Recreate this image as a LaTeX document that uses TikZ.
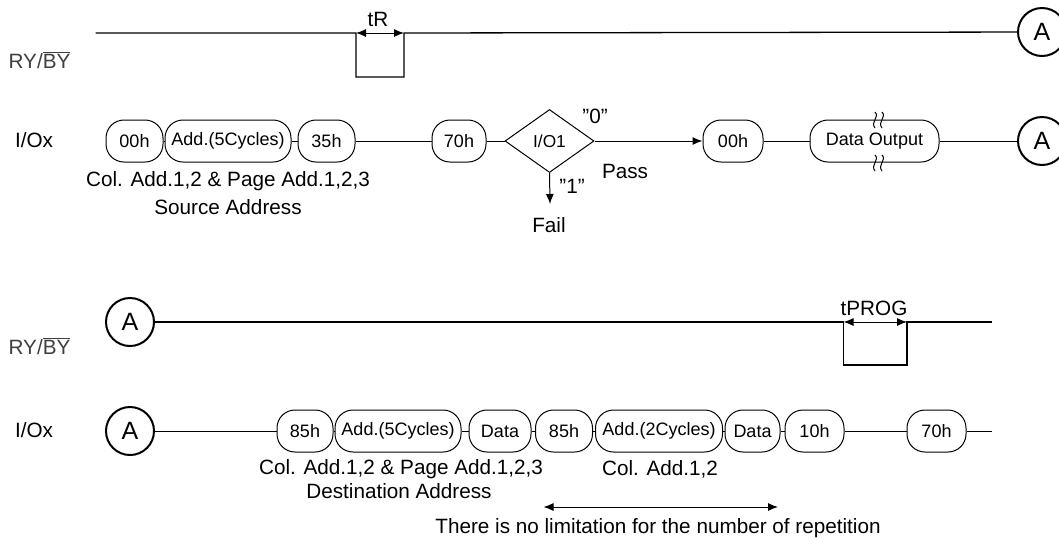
\documentclass[tikz,border=0pt]{standalone}
\usepackage{fontspec}
\setmainfont{Liberation Sans}
\usetikzlibrary{arrows.meta,shapes.geometric}
\begin{document}
\begin{tikzpicture}[
    x=1pt, y=-1pt,
    signal/.style={black, line width=1.3pt},
    bus/.style={black, line width=1pt},
    pill/.style={draw, line width=1pt, rounded corners=18pt, minimum height=42pt,
      inner sep=0pt, font=\fontsize{18}{20}\selectfont},
    decision/.style={draw, diamond, line width=1pt, minimum width=89pt,
      minimum height=63pt, inner sep=0pt, font=\fontsize{17.3}{20}\selectfont},
    joint/.style={draw, circle, line width=2pt, minimum size=48pt, inner sep=0pt,
      font=\fontsize{25}{28}\selectfont},
    lbl/.style={font=\fontsize{20.7}{24}\selectfont, inner sep=0pt},
    pinname/.style={lbl, black!75},
    tip/.style={-{Latex[length=10pt,width=8pt]}},
    dim/.style={line width=1pt, {Latex[length=10pt,width=8pt]}-{Latex[length=10pt,width=8pt]}},
  ]
\useasboundingbox (0,0) rectangle (1059,539);

% Signal names on the left.
\node[pinname] (rybTop) at (39.5,60) {RY/$\overline{\mbox{BY}}$};
\node[lbl] (ioTop) at (34,140) {I/Ox};
\node[pinname] (rybBot) at (39.5,346) {RY/$\overline{\mbox{BY}}$};
\node[lbl] (ioBot) at (34,430) {I/Ox};

% Read for copy-back: busy pulse tR, then on to connector A.
\node[joint] (topA) at (1042,32) {A};
\coordinate (ryStart) at (95.5,33);
\coordinate (tRs) at (356,33);
\coordinate (tRe) at (404,33);
\draw[signal] (ryStart) -- (tRs) -- ++(0,44) -- ++(48,0) -- (tRe) -- (topA);
\draw[dim] (tRs) -- (tRe);
\node[lbl] (tR) at (378,19) {tR};

% Command and address sequence, status check, data output.
\node[pill, minimum width=57pt] (c00) at (134.5,141) {00h};
\node[pill, minimum width=126pt] (cadd) at (228,141) {Add.(5Cycles)};
\node[pill, minimum width=57pt] (c35) at (326.5,141) {35h};
\node[pill, minimum width=54pt] (c70) at (459,141) {70h};
\node[decision] (chk) at (549.5,141) {I/O1};
\node[pill, minimum width=60pt] (r00) at (733,141) {00h};
\node[pill, minimum width=129pt] (dout) at (874.5,141) {Data Output};
\node[joint] (midA) at (1042,141) {A};
\draw[bus] (c00) -- (cadd);
\draw[bus] (cadd) -- (c35);
\draw[bus] (c35) -- (c70);
\draw[bus] (c70) -- (chk);
\draw[bus, tip] (chk) -- (r00);
\draw[bus] (r00) -- (dout);
\draw[bus] (dout) -- (midA);
\coordinate (failEnd) at (550,204);
\draw[bus, tip] (chk.south) -- (failEnd);
\node[lbl] (zero) at (595,116) {”0”};
\node[lbl] (one) at (572,186) {”1”};
\node[lbl] (pass) at (625,171) {Pass};
\node[lbl] (fail) at (549,225) {Fail};
\node[lbl] (srcCol) at (228,181) {Col. Add.1,2 \& Page Add.1,2,3};
\node[lbl] (srcName) at (228,207) {Source Address};

% Break marks on the data output burst.
\draw[bus] (875,112) .. controls (880,117) and (870,122) .. (875,128);
\draw[bus] (882,112) .. controls (887,117) and (877,122) .. (882,128);
\draw[bus] (875,155) .. controls (880,160) and (870,165) .. (875,171);
\draw[bus] (882,155) .. controls (887,160) and (877,165) .. (882,171);

% Program side: busy pulse tPROG.
\node[joint] (botA) at (130,322) {A};
\coordinate (tPs) at (843.5,322);
\coordinate (tPe) at (907,322);
\coordinate (ryEnd) at (992,322);
\draw[signal] (botA) -- (tPs) -- ++(0,43) -- ++(63.5,0) -- (tPe) -- (ryEnd);
\draw[dim] (tPs) -- (tPe);
\node[lbl] (tPROG) at (874,308) {tPROG};

% Destination address, data input and its repeatable part.
\node[joint] (ioA) at (130,431) {A};
\node[pill, minimum width=56pt] (s85) at (305,431) {85h};
\node[pill, minimum width=126pt] (sadd) at (398,431) {Add.(5Cycles)};
\node[pill, minimum width=62pt] (sdat) at (500,431) {Data};
\node[pill, minimum width=57pt] (t85) at (564,431) {85h};
\node[pill, minimum width=127pt] (tadd) at (659,431) {Add.(2Cycles)};
\node[pill, minimum width=55pt] (tdat) at (752.5,431) {Data};
\node[pill, minimum width=59pt] (c10) at (814.5,431) {10h};
\node[pill, minimum width=59pt] (d70) at (936.5,431) {70h};
\coordinate (ioEnd) at (992,431);
\draw[bus] (ioA) -- (s85);
\draw[bus] (s85) -- (sadd);
\draw[bus] (sadd) -- (sdat);
\draw[bus] (sdat) -- (t85);
\draw[bus] (t85) -- (tadd);
\draw[bus] (tadd) -- (tdat);
\draw[bus] (tdat) -- (c10);
\draw[bus] (c10) -- (d70);
\draw[bus] (d70) -- (ioEnd);
\node[lbl] (dstCol) at (401,469) {Col. Add.1,2 \& Page Add.1,2,3};
\node[lbl] (dstName) at (399,491) {Destination Address};
\node[lbl] (repCol) at (660,469) {Col. Add.1,2};
\coordinate (repL) at (543.5,507);
\coordinate (repR) at (778,507);
\draw[dim] (repL) -- (repR);
\node[lbl] (repNote) at (658,528) {There is no limitation for the number of repetition};

\end{tikzpicture}
\end{document}
